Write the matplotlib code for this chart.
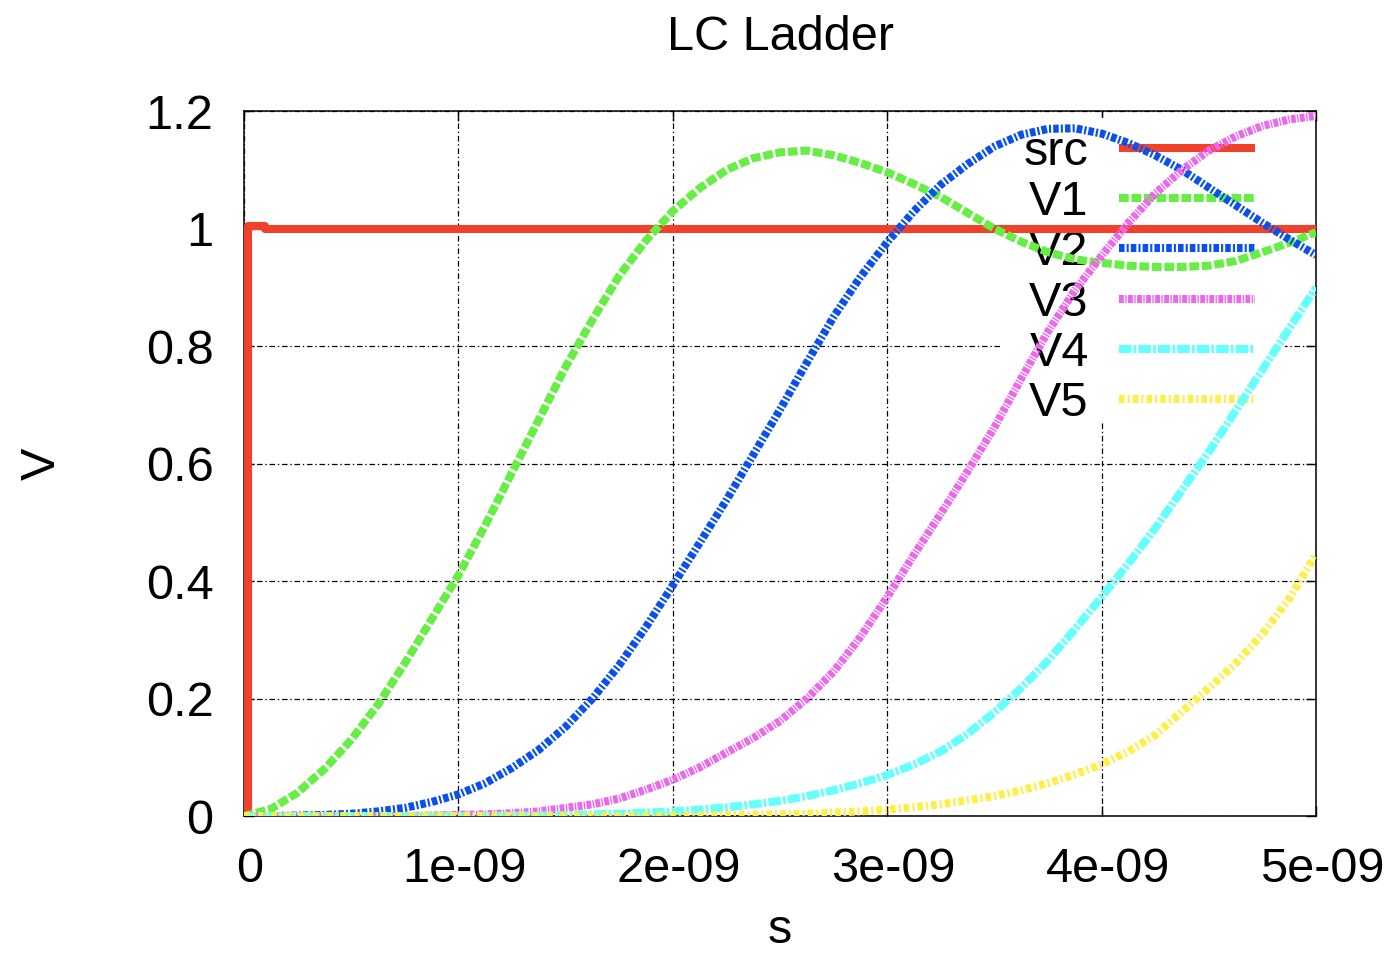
import matplotlib
matplotlib.use("Agg")
import matplotlib.pyplot as plt
import matplotlib.transforms as mtransforms
from matplotlib.patches import Rectangle
import numpy as np

plt.rcParams['font.family'] = ['Liberation Sans', 'DejaVu Sans']
plt.rcParams['lines.scale_dashes'] = False

# time axis, ns (0 .. 5 in steps of 0.125)
t_ns = np.linspace(0, 5, 41)

src_t = [0.02, 0.02, 0.1, 0.1, 5.0]
src_v = [0.0, 1.005, 1.005, 1.0, 1.0]

V1 = [0, 0.012, 0.04, 0.08, 0.13, 0.19, 0.26, 0.335, 0.41, 0.495,
      0.585, 0.675, 0.765, 0.845, 0.92, 0.98, 1.03, 1.069, 1.10, 1.12,
      1.13, 1.133, 1.125, 1.112, 1.096, 1.076, 1.054, 1.027, 1.0, 0.978,
      0.96, 0.948, 0.942, 0.937, 0.935, 0.935, 0.937, 0.945, 0.96, 0.976,
      0.994]
V2 = [0, 0, 0.001, 0.002, 0.004, 0.008, 0.014, 0.024, 0.037, 0.056,
      0.082, 0.113, 0.152, 0.2, 0.257, 0.322, 0.393, 0.465, 0.538, 0.615,
      0.692, 0.772, 0.85, 0.918, 0.977, 1.03, 1.075, 1.11, 1.14, 1.16,
      1.17, 1.171, 1.162, 1.146, 1.125, 1.1, 1.07, 1.04, 1.01, 0.982,
      0.955]
V3 = [0, 0, 0, 0, 0, 0, 0, 0.001, 0.002, 0.003,
      0.005, 0.008, 0.014, 0.02, 0.03, 0.045, 0.062, 0.083, 0.108, 0.133,
      0.162, 0.2, 0.246, 0.305, 0.373, 0.445, 0.515, 0.587, 0.662, 0.745,
      0.825, 0.895, 0.954, 1.01, 1.06, 1.1, 1.133, 1.157, 1.175, 1.186,
      1.192]
V4 = [0, 0, 0, 0, 0, 0, 0, 0, 0, 0,
      0.001, 0.001, 0.002, 0.003, 0.004, 0.006, 0.008, 0.011, 0.015, 0.02,
      0.026, 0.034, 0.044, 0.056, 0.07, 0.088, 0.11, 0.14, 0.177, 0.218,
      0.265, 0.318, 0.373, 0.43, 0.49, 0.555, 0.62, 0.69, 0.76, 0.83,
      0.9]
V5 = [0, 0, 0, 0, 0, 0, 0, 0, 0, 0,
      0, 0, 0, 0, 0, 0, 0.001, 0.001, 0.002, 0.002,
      0.003, 0.004, 0.006, 0.008, 0.011, 0.015, 0.02, 0.027, 0.034, 0.044,
      0.056, 0.071, 0.088, 0.11, 0.138, 0.178, 0.218, 0.26, 0.31, 0.37,
      0.446]

names = ['src', 'V1', 'V2', 'V3', 'V4', 'V5']
colors = ['#F0412A', '#66EE44', '#0A50F0', '#EE66EE', '#66FFFF', '#FFEE44']
dashes = [None, (7, 2), (4, 1.5, 1.5, 1.5), (3.5, 1, 1, 1),
          (9, 1.5, 2, 1.5), (4, 2.2, 1.5, 2.2)]

xticks = [0, 1e-9, 2e-9, 3e-9, 4e-9, 5e-9]
xticklabels = ['0', '1e-09', '2e-09', '3e-09', '4e-09', '5e-09']
yticks = [0, 0.2, 0.4, 0.6, 0.8, 1.0, 1.2]
yticklabels = ['0', '0.2', '0.4', '0.6', '0.8', '1', '1.2']

fig = plt.figure(figsize=(13.91, 9.59), dpi=100)
ax = fig.add_axes([0.1754, 0.149, 0.7707, 0.735])

series = [(src_t, src_v), (t_ns, V1), (t_ns, V2), (t_ns, V3), (t_ns, V4), (t_ns, V5)]
for (tt, vv), name, c, d in zip(series, names, colors, dashes):
    x = np.asarray(tt) * 1e-9
    ln, = ax.plot(x, vv, color=c, lw=5.8, label=name, zorder=3,
                  solid_capstyle='butt', dash_capstyle='butt')
    if d is not None:
        ln.set_dashes(d)

ax.set_xlim(0, 5e-9)
ax.set_ylim(0, 1.2)
ax.set_xticks(xticks)
ax.set_xticklabels(xticklabels)
ax.set_yticks(yticks)
ax.set_yticklabels(yticklabels)
ax.tick_params(direction='in', length=7, width=1, labelsize=35,
               top=True, right=True, pad=22)
# gnuplot puts the x labels a touch to the right
shift = mtransforms.ScaledTranslation(0.06, 0, fig.dpi_scale_trans)
for lab in ax.get_xticklabels():
    lab.set_transform(lab.get_transform() + shift)

ax.set_axisbelow(True)
ax.grid(True, color='black', lw=0.9, dashes=(4, 2, 1, 2))
for s in ax.spines.values():
    s.set_linewidth(1.1)

# white area behind the key, covers the grid
ax.add_patch(Rectangle((0.705, 0.557), 0.266, 0.434, transform=ax.transAxes,
                       facecolor='white', edgecolor='none', zorder=1))

leg = ax.legend(loc='upper right', bbox_to_anchor=((1255 - 244) / 1072, 0.974),
                frameon=False, markerfirst=False, fontsize=35,
                handlelength=2.8, handletextpad=0.62, labelspacing=0.11,
                borderpad=0, borderaxespad=0)
for txt in leg.get_texts():
    txt.set_ha('right')
leg.set_zorder(2)

ax.set_title('LC Ladder', fontsize=35, pad=44)
ax.set_xlabel('s', fontsize=35, labelpad=12)
ax.set_ylabel('V', fontsize=35, labelpad=58)

fig.savefig('out.png', dpi=100)
